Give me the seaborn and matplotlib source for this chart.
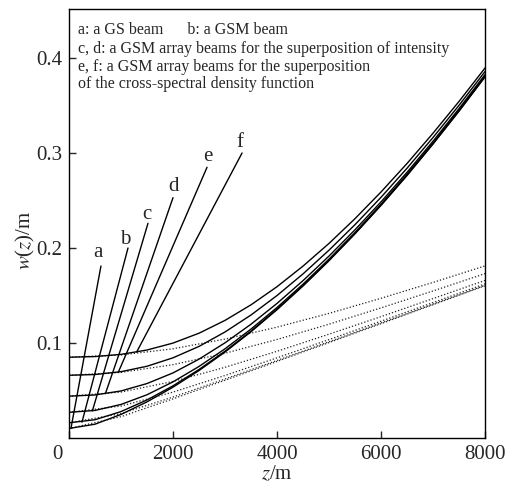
import numpy as np
import pandas as pd
import seaborn as sns
import matplotlib.pyplot as plt
from matplotlib.transforms import ScaledTranslation

# beam width w(z)
z_solid = [0, 500, 1000, 1500, 2000, 2500, 3000, 3500, 4000,
           4500, 5000, 5500, 6000, 6500, 7000, 7500, 8000]
w_a = [0.010, 0.0145, 0.0248, 0.0380, 0.0535, 0.0710, 0.0905, 0.1119, 0.1351,
       0.1601, 0.1867, 0.2151, 0.2450, 0.2765, 0.3097, 0.3443, 0.3804]
w_b = [0.016, 0.0192, 0.0278, 0.0400, 0.0549, 0.0721, 0.0914, 0.1126, 0.1357,
       0.1605, 0.1871, 0.2154, 0.2453, 0.2768, 0.3099, 0.3445, 0.3806]
w_c = [0.027, 0.0290, 0.0353, 0.0455, 0.0591, 0.0753, 0.0939, 0.1147, 0.1374,
       0.1620, 0.1884, 0.2165, 0.2463, 0.2777, 0.3107, 0.3452, 0.3812]
w_d = [0.044, 0.0453, 0.0495, 0.0573, 0.0685, 0.0830, 0.1002, 0.1198, 0.1417,
       0.1657, 0.1916, 0.2193, 0.2487, 0.2798, 0.3126, 0.3469, 0.3828]
w_e = [0.066, 0.0668, 0.0698, 0.0755, 0.0844, 0.0964, 0.1116, 0.1295, 0.1500,
       0.1728, 0.1978, 0.2247, 0.2535, 0.2841, 0.3165, 0.3504, 0.3860]
w_f = [0.085, 0.0857, 0.0880, 0.0926, 0.0999, 0.1103, 0.1238, 0.1402, 0.1593,
       0.1810, 0.2049, 0.2310, 0.2591, 0.2891, 0.3210, 0.3545, 0.3897]

# free-space widths (dotted)
z_dot = [0, 1000, 2000, 3000, 4000, 5000, 6000, 7000, 8000]
d_a = [0.010, 0.0224, 0.0412, 0.0608, 0.0806, 0.1005, 0.1204, 0.1404, 0.1603]
d_b = [0.016, 0.0256, 0.0431, 0.0621, 0.0816, 0.1013, 0.1211, 0.1409, 0.1608]
d_c = [0.027, 0.0336, 0.0483, 0.0658, 0.0844, 0.1036, 0.1230, 0.1426, 0.1623]
d_d = [0.044, 0.0483, 0.0595, 0.0744, 0.0913, 0.1093, 0.1278, 0.1468, 0.1659]
d_e = [0.066, 0.0690, 0.0772, 0.0892, 0.1037, 0.1198, 0.1370, 0.1548, 0.1731]
d_f = [0.085, 0.0874, 0.0939, 0.1041, 0.1167, 0.1312, 0.1471, 0.1638, 0.1812]

labels = ['a', 'b', 'c', 'd', 'e', 'f']
lab_z = [555, 1077, 1500, 2000, 2673, 3288]
lab_w = [0.195, 0.209, 0.235, 0.265, 0.296, 0.311]
top_z = [615, 1135, 1519, 2000, 2654, 3327]
top_w = [0.181, 0.200, 0.226, 0.253, 0.285, 0.300]
tip_z = [38, 250, 450, 700, 950, 1300]
tip_w = [0.0100, 0.0166, 0.0285, 0.0466, 0.0694, 0.0904]

legend_lines = ['a: a GS beam      b: a GSM beam',
                'c, d: a GSM array beams for the superposition of intensity',
                'e, f: a GSM array beams for the superposition',
                'of the cross-spectral density function']

sns.set_style('ticks')
plt.rcParams['font.family'] = ['Liberation Serif', 'DejaVu Serif']
plt.rcParams['mathtext.fontset'] = 'stix'

solid = pd.DataFrame({'z': z_solid, 'a': w_a, 'b': w_b, 'c': w_c,
                      'd': w_d, 'e': w_e, 'f': w_f})
dotted = pd.DataFrame({'z': z_dot, 'a': d_a, 'b': d_b, 'c': d_c,
                       'd': d_d, 'e': d_e, 'f': d_f})

fig = plt.figure(figsize=(5.07, 4.88), dpi=100)
ax = fig.add_axes([0.136, 0.1025, 0.821, 0.8791])

for k in labels:
    sns.lineplot(data=dotted, x='z', y=k, ax=ax, color='#222222', lw=0.9,
                 linestyle=(0, (1, 1.6)), estimator=None, sort=False)
for k in labels:
    sns.lineplot(data=solid, x='z', y=k, ax=ax, color='black', lw=1.0,
                 estimator=None, sort=False)

for i, k in enumerate(labels):
    ax.plot([top_z[i], tip_z[i]], [top_w[i], tip_w[i]], color='black', lw=1.0)
    ax.text(lab_z[i], lab_w[i], k, fontsize=15, ha='center', va='center')

ys = [0.952, 0.906, 0.864, 0.824]
for y, s in zip(ys, legend_lines):
    ax.text(0.0216, y, s, transform=ax.transAxes, fontsize=11.5,
            ha='left', va='center')

ax.set_xlim(0, 8000)
ax.set_ylim(0, 0.4516)
ax.set_xticks([0, 2000, 4000, 6000, 8000])
ax.set_yticks([0.1, 0.2, 0.3, 0.4])
ax.set_yticklabels(['0.1', '0.2', '0.3', '0.4'])
ax.tick_params(direction='in', length=5, width=1, labelsize=15, pad=5)
for sp in ax.spines.values():
    sp.set_visible(True)
    sp.set_linewidth(1.0)
    sp.set_color('black')

# corner "0" sits a little to the left
lab0 = ax.get_xticklabels()[0]
lab0.set_transform(lab0.get_transform() + ScaledTranslation(-0.12, 0, fig.dpi_scale_trans))

ax.set_xlabel('$z$/m', fontsize=15, labelpad=1)
ax.set_ylabel('$w$($z$)/m', fontsize=15)
ax.yaxis.set_label_coords(-0.077, 0.46)

fig.savefig('out.png', dpi=100)
